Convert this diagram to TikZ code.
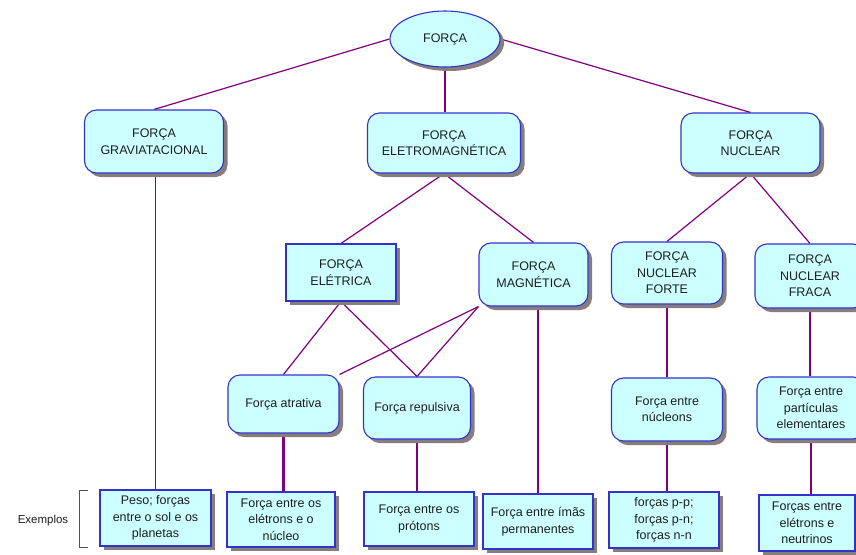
\documentclass[tikz,border=0pt]{standalone}
\usepackage{fontspec}
\setmainfont{Liberation Sans}
\usetikzlibrary{shadows,shapes.geometric,calc}
\pgfdeclarelayer{bg}
\pgfsetlayers{bg,main}
\definecolor{boxfill}{RGB}{204,255,255}
\definecolor{boxline}{RGB}{51,51,204}
\definecolor{shade}{RGB}{135,125,125}
\definecolor{conn}{RGB}{128,0,128}
\definecolor{txt}{RGB}{30,30,30}
\definecolor{brk}{RGB}{80,80,80}
\begin{document}
\begin{tikzpicture}[x=1pt,y=-1pt,
  base/.style={draw=boxline, line width=1.1pt, fill=boxfill, text=txt, align=center,
    font=\fontsize{12.5}{16.5}\selectfont, inner sep=0pt,
    drop shadow={shadow xshift=4pt, shadow yshift=-4pt, fill=shade, opacity=1}},
  rbox/.style={base, rounded corners=12pt},
  sbox/.style={base},
  conna/.style={draw=conn, line width=1.2pt},
  connb/.style={draw=conn, line width=2.6pt},
  sz/.style 2 args={minimum width=#1pt, minimum height=#2pt}
]
\useasboundingbox (0,0) rectangle (856,554);

% top
\node[base, ellipse, sz={110}{56}] (force) at (445,39) {FORÇA};
% level 1
\node[rbox, sz={139}{63}] (grav) at (154,141.5) {FORÇA\\GRAVIATACIONAL};
\node[rbox, sz={153}{60}] (elmag) at (444,143) {FORÇA\\ELETROMAGNÉTICA};
\node[rbox, sz={139}{60}] (nuclear) at (750.5,143) {FORÇA\\NUCLEAR};
% level 2
\node[sbox, sz={110}{57}] (eletrica) at (341,272.5) {FORÇA\\ELÉTRICA};
\node[rbox, sz={109}{63}] (magnetica) at (533.5,274.5) {FORÇA\\MAGNÉTICA};
\node[rbox, sz={111}{62}] (forte) at (667,273) {FORÇA\\NUCLEAR\\FORTE};
\node[rbox, sz={110}{64}] (fraca) at (810,276) {FORÇA\\NUCLEAR\\FRACA};
% level 3
\node[rbox, sz={111}{58}] (atrativa) at (283.5,404) {Força atrativa};
\node[rbox, sz={107}{62}] (repulsiva) at (417,408) {Força repulsiva};
\node[rbox, sz={111}{63}] (nucleons) at (667,409.5) {Força entre\\núcleons};
\node[rbox, sz={108}{62}] (particulas) at (811,408) {Força entre\\partículas\\elementares};
% examples
\node[sbox, sz={111}{56}] (peso) at (155.5,518) {Peso; forças\\entre o sol e os\\planetas};
\node[sbox, sz={108}{55}] (eletrons) at (281,519.5) {Força entre os\\elétrons e o\\núcleo};
\node[sbox, sz={110}{54}] (protons) at (419,519) {Força entre os\\prótons};
\node[sbox, sz={110}{55}] (imas) at (538,521.5) {Força entre ímãs\\permanentes};
\node[sbox, sz={110}{56}] (pp) at (664,520) {forças p-p;\\forças p-n;\\forças n-n};
\node[sbox, sz={96}{56}] (neutrinos) at (807,523) {Forças entre\\elétrons e\\neutrinos};

% Exemplos label and bracket
\node[text=txt, font=\fontsize{11.5}{14}\selectfont] (exemplos) at (43,521) {Exemplos};
\coordinate (bt) at (88,490);
\coordinate (bb) at (88,547);
\draw[brk, line width=0.8pt] (bt) -- ++(-9,0) -- ($(bb)+(-9,0)$) -- (bb);

\begin{pgfonlayer}{bg}
  \fill[white] (0,0) rectangle (856,554);
  \draw[conna] (force.west) -- (grav.north);
  \draw[connb] (force.south) -- (force.south |- elmag.north);
  \draw[conna] (force.east) -- (nuclear.north);
  \draw[conna] (grav.south -| peso.north) -- (peso.north);
  \draw[conna] (elmag.south) -- (eletrica.north);
  \draw[conna] (elmag.south) -- (magnetica.north);
  \draw[conna] (nuclear.south) -- (forte.north);
  \draw[conna] (nuclear.south) -- (fraca.north);
  \draw[conna] (eletrica.south) -- (atrativa.north);
  \draw[conna] (eletrica.south) -- (repulsiva.north);
  \draw[conna] (magnetica.south west) -- (atrativa.north east);
  \draw[conna] (magnetica.south west) -- (repulsiva.north);
  \draw[conna] (imas.north |- magnetica.south) -- (imas.north);
  \draw[connb] (atrativa.south) -- (atrativa.south |- eletrons.north);
  \draw[connb] (repulsiva.south) -- (repulsiva.south |- protons.north);
  \draw[conna] (forte.south) -- (forte.south |- nucleons.north);
  \draw[connb] (fraca.south) -- (fraca.south |- particulas.north);
  \draw[conna] (nucleons.south) -- (nucleons.south |- pp.north);
  \draw[conna] (particulas.south) -- (particulas.south |- neutrinos.north);
\end{pgfonlayer}
\end{tikzpicture}
\end{document}
